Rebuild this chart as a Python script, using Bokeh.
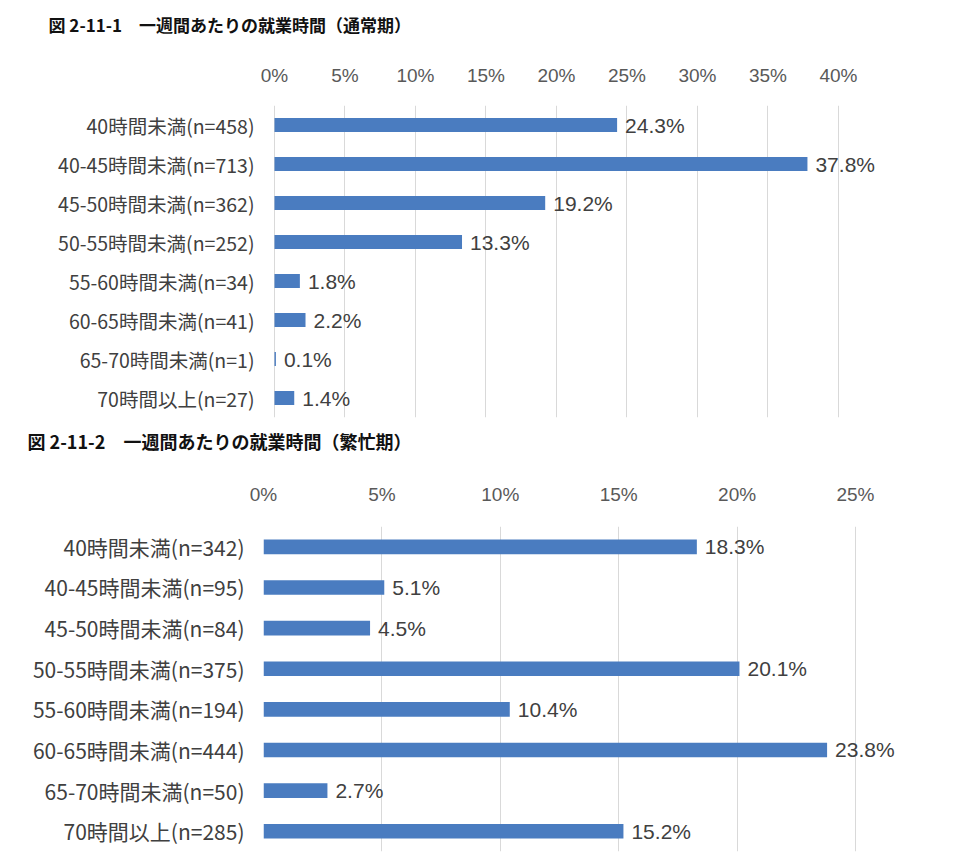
from bokeh.plotting import figure
from bokeh.layouts import column
from bokeh.models import ColumnDataSource, FactorRange, FixedTicker, Range1d
from bokeh.core.properties import value
from bokeh.embed import file_html
from bokeh.resources import INLINE

title1 = "図 2-11-1　一週間あたりの就業時間（通常期）"
cats1 = ["40時間未満(n=458)", "40-45時間未満(n=713)", "45-50時間未満(n=362)",
         "50-55時間未満(n=252)", "55-60時間未満(n=34)", "60-65時間未満(n=41)",
         "65-70時間未満(n=1)", "70時間以上(n=27)"]
vals1 = [24.3, 37.8, 19.2, 13.3, 1.8, 2.2, 0.1, 1.4]
ticks1 = [0, 5, 10, 15, 20, 25, 30, 35, 40]

title2 = "図 2-11-2　一週間あたりの就業時間（繁忙期）"
cats2 = ["40時間未満(n=342)", "40-45時間未満(n=95)", "45-50時間未満(n=84)",
         "50-55時間未満(n=375)", "55-60時間未満(n=194)", "60-65時間未満(n=444)",
         "65-70時間未満(n=50)", "70時間以上(n=285)"]
vals2 = [18.3, 5.1, 4.5, 20.1, 10.4, 23.8, 2.7, 15.2]
ticks2 = [0, 5, 10, 15, 20, 25]

BAR = "#4a7cc0"
NUM_FONT = "Liberation Sans"
CJK_FONT = "Noto Sans CJK JP"


def title_fig(title, height, toff, tstand, tsize):
    t = figure(width=944, height=height, output_backend="svg", toolbar_location=None,
               x_axis_type=None, y_axis_type=None,
               min_border_left=263, min_border_right=44,
               min_border_top=0, min_border_bottom=0)
    t.title.text = title
    t.title.text_font = CJK_FONT
    t.title.text_font_size = tsize
    t.title.text_font_style = "bold"
    t.title.text_color = "#111111"
    t.title.align = "left"
    t.title.offset = toff
    t.title.standoff = tstand
    t.outline_line_color = None
    t.background_fill_color = "white"
    t.border_fill_color = "white"
    return t


def make(cats, vals, ticks, xmin, xmax, height, btop, bbot, csize, cstand, xstand):
    src = ColumnDataSource(dict(cat=cats, val=vals,
                                lab=["%.1f%%" % v for v in vals]))
    p = figure(width=944, height=height, output_backend="svg", toolbar_location=None,
               y_range=FactorRange(factors=list(reversed(cats)), range_padding=0),
               x_range=Range1d(xmin, xmax), x_axis_location="above",
               min_border_left=263, min_border_right=44,
               min_border_top=btop, min_border_bottom=bbot)
    p.hbar(y="cat", right="val", left=0, height=0.36, source=src,
           fill_color=BAR, line_color=None)
    p.text(x="val", y="cat", text="lab", source=src, x_offset=8,
           text_baseline="middle", text_align="left", text_color="#404040",
           text_font=value(NUM_FONT), text_font_size="21px")
    p.xaxis.ticker = FixedTicker(ticks=ticks)
    p.xaxis.major_label_overrides = {t: "%d%%" % t for t in ticks}
    p.xaxis.axis_line_color = None
    p.xaxis.major_tick_line_color = None
    p.xaxis.minor_tick_line_color = None
    p.xaxis.major_label_text_font = NUM_FONT
    p.xaxis.major_label_text_font_size = "19px"
    p.xaxis.major_label_text_color = "#595959"
    p.xaxis.major_label_standoff = xstand
    p.yaxis.axis_line_color = None
    p.yaxis.major_tick_line_color = None
    p.yaxis.major_label_text_font = CJK_FONT
    p.yaxis.major_label_text_font_size = csize
    p.yaxis.major_label_text_color = "#404040"
    p.yaxis.major_label_standoff = cstand
    p.ygrid.grid_line_color = None
    p.xgrid.grid_line_color = "#d9d9d9"
    p.xgrid.grid_line_width = 1
    p.outline_line_color = None
    p.background_fill_color = "white"
    p.border_fill_color = "white"
    return p


t1 = title_fig(title1, 60, -215, 19, "17px")
p1 = make(cats1, vals1, ticks1, -0.78, 44.4, 364, 45, 7, "19.5px", 3, 14)
t2 = title_fig(title2, 53, -236, 3, "18px")
p2 = make(cats2, vals2, ticks2, 0, 26.9, 377, 49, 3, "21px", 13, 16)

layout = column(t1, p1, t2, p2, spacing=0)
open("out.html", "w").write(file_html(layout, INLINE))
